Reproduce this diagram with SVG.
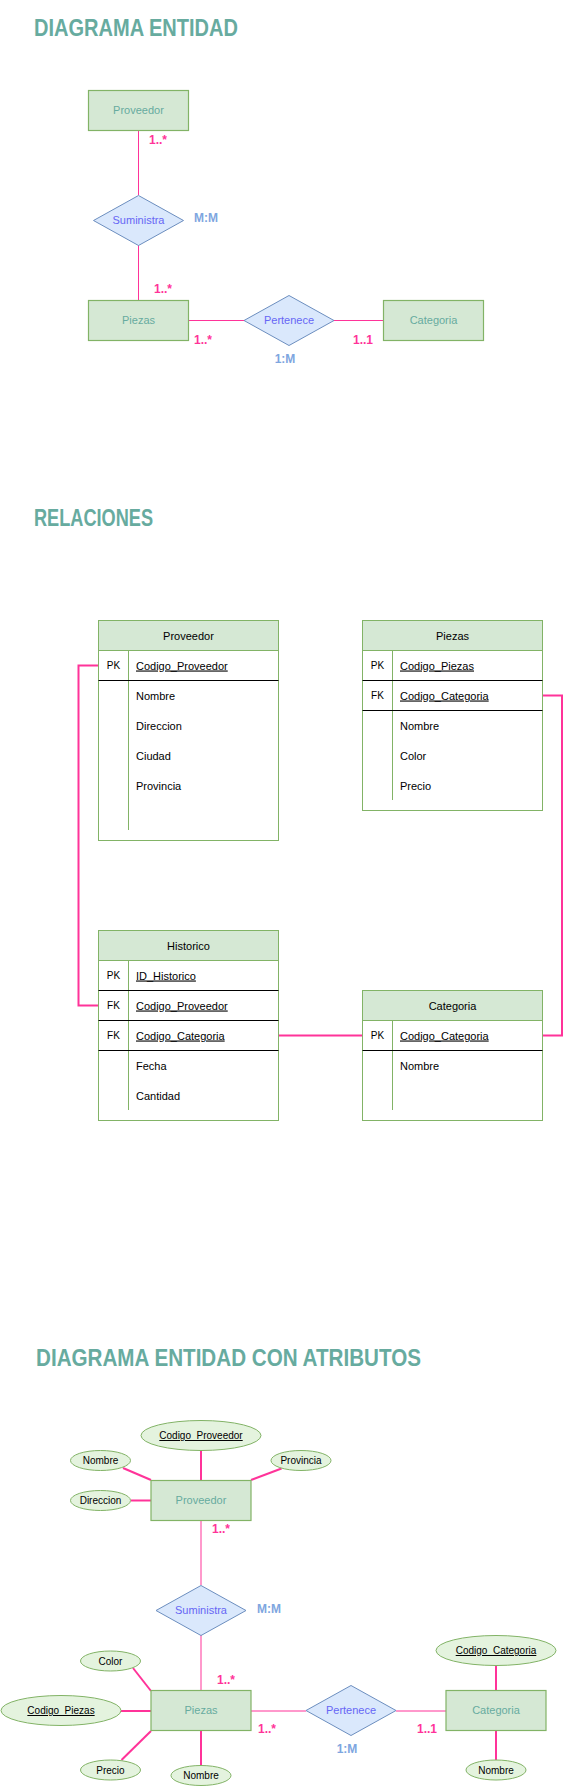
<svg xmlns="http://www.w3.org/2000/svg" width="566" height="1786" viewBox="0 0 566 1786">
<style>
text{font-family:"Liberation Sans",Arial,sans-serif}
.title{font-size:23px;font-weight:bold;fill:#67AB9F}
.ent{fill:#d5e8d4;stroke:#82b366;stroke-width:1.2}
.entt{font-size:11px;fill:#67AB9F;text-anchor:middle}
.rel{fill:#dae8fc;stroke:#6c8ebf;stroke-width:1}
.relt{font-size:11px;fill:#6666F5;text-anchor:middle}
.card{font-size:12px;font-weight:bold;fill:#FF3399;text-anchor:middle}
.ratio{font-size:12px;font-weight:bold;fill:#7EA6E0;text-anchor:middle}
.ln{stroke:#FF3399;stroke-width:1;fill:none}
.ln2{stroke:#FF3399;stroke-width:2;fill:none}
.lnl{stroke:#FF99CC;stroke-width:2;fill:none}
.tbl{fill:#ffffff;stroke:#82b366;stroke-width:1}
.hdr{fill:#d5e8d4;stroke:#82b366;stroke-width:1}
.div{stroke:#82b366;stroke-width:1}
.sep{stroke:#000000;stroke-width:1}
.th{font-size:11px;fill:#000;text-anchor:middle}
.k{font-size:10px;fill:#000;text-anchor:middle}
.f{font-size:11px;fill:#000}
.u{text-decoration:underline}
.att{fill:#e4f3de;stroke:#82b366;stroke-width:1}
.attt{font-size:10px;fill:#000;text-anchor:middle}
</style>

<!-- Titles -->
<text class="title" x="34" y="36" textLength="204" lengthAdjust="spacingAndGlyphs">DIAGRAMA ENTIDAD</text>
<text class="title" x="34" y="526" textLength="119" lengthAdjust="spacingAndGlyphs">RELACIONES</text>
<text class="title" x="36" y="1366" textLength="385" lengthAdjust="spacingAndGlyphs">DIAGRAMA ENTIDAD CON ATRIBUTOS</text>

<!-- Section 1 connectors -->
<g id="connectors1">
<line class="ln" x1="138.5" y1="130" x2="138.5" y2="195"/>
<line class="ln" x1="138.5" y1="245" x2="138.5" y2="300"/>
<line class="ln" x1="188" y1="320.5" x2="244" y2="320.5"/>
<line class="ln" x1="334" y1="320.5" x2="383" y2="320.5"/>
<text class="card" x="158" y="144">1..*</text>
<text class="ratio" x="206" y="222">M:M</text>
<text class="card" x="163" y="293">1..*</text>
<text class="card" x="203" y="344">1..*</text>
<text class="card" x="363" y="344">1..1</text>
<text class="ratio" x="285" y="363">1:M</text>
</g>
<g id="e1-proveedor"><rect class="ent" x="88.5" y="90.5" width="100" height="40"/><text class="entt" x="138.5" y="114">Proveedor</text></g>
<g id="r1-suministra"><polygon class="rel" points="138.5,195.5 183.5,220.5 138.5,245.5 93.5,220.5"/><text class="relt" x="138.5" y="224">Suministra</text></g>
<g id="e1-piezas"><rect class="ent" x="88.5" y="300.5" width="100" height="40"/><text class="entt" x="138.5" y="324">Piezas</text></g>
<g id="r1-pertenece"><polygon class="rel" points="289,295.5 334,320.5 289,345.5 244,320.5"/><text class="relt" x="289" y="324">Pertenece</text></g>
<g id="e1-categoria"><rect class="ent" x="383.5" y="300.5" width="100" height="40"/><text class="entt" x="433.5" y="324">Categoria</text></g>

<!-- Section 2 connectors -->
<g id="connectors2">
<polyline class="ln2" points="99,665.5 78.5,665.5 78.5,1005.5 99,1005.5"/>
<polyline class="ln2" points="543,695.5 562,695.5 562,1035.5 543,1035.5"/>
<line class="ln2" x1="279" y1="1035.5" x2="363" y2="1035.5"/>
</g>

<g id="t-proveedor">
<rect class="tbl" x="98.5" y="620.5" width="180" height="220"/>
<rect class="hdr" x="98.5" y="620.5" width="180" height="30"/>
<line class="div" x1="128.5" y1="650.5" x2="128.5" y2="830"/>
<line class="sep" x1="98.5" y1="680.5" x2="278.5" y2="680.5"/>
<text class="th" x="188.5" y="639.5">Proveedor</text>
<text class="k" x="113.5" y="669">PK</text>
<text class="f u" x="136" y="669.5">Codigo_Proveedor</text>
<text class="f" x="136" y="699.5">Nombre</text>
<text class="f" x="136" y="729.5">Direccion</text>
<text class="f" x="136" y="759.5">Ciudad</text>
<text class="f" x="136" y="789.5">Provincia</text>
</g>

<g id="t-piezas">
<rect class="tbl" x="362.5" y="620.5" width="180" height="190"/>
<rect class="hdr" x="362.5" y="620.5" width="180" height="30"/>
<line class="div" x1="392.5" y1="650.5" x2="392.5" y2="800"/>
<line class="sep" x1="362.5" y1="680.5" x2="542.5" y2="680.5"/>
<line class="sep" x1="362.5" y1="710.5" x2="542.5" y2="710.5"/>
<text class="th" x="452.5" y="639.5">Piezas</text>
<text class="k" x="377.5" y="669">PK</text>
<text class="f u" x="400" y="669.5">Codigo_Piezas</text>
<text class="k" x="377.5" y="699">FK</text>
<text class="f u" x="400" y="699.5">Codigo_Categoria</text>
<text class="f" x="400" y="729.5">Nombre</text>
<text class="f" x="400" y="759.5">Color</text>
<text class="f" x="400" y="789.5">Precio</text>
</g>

<g id="t-historico">
<rect class="tbl" x="98.5" y="930.5" width="180" height="190"/>
<rect class="hdr" x="98.5" y="930.5" width="180" height="30"/>
<line class="div" x1="128.5" y1="960.5" x2="128.5" y2="1110"/>
<line class="sep" x1="98.5" y1="990.5" x2="278.5" y2="990.5"/>
<line class="sep" x1="98.5" y1="1020.5" x2="278.5" y2="1020.5"/>
<line class="sep" x1="98.5" y1="1050.5" x2="278.5" y2="1050.5"/>
<text class="th" x="188.5" y="949.5">Historico</text>
<text class="k" x="113.5" y="979">PK</text>
<text class="f u" x="136" y="979.5">ID_Historico</text>
<text class="k" x="113.5" y="1009">FK</text>
<text class="f u" x="136" y="1009.5">Codigo_Proveedor</text>
<text class="k" x="113.5" y="1039">FK</text>
<text class="f u" x="136" y="1039.5">Codigo_Categoria</text>
<text class="f" x="136" y="1069.5">Fecha</text>
<text class="f" x="136" y="1099.5">Cantidad</text>
</g>

<g id="t-categoria">
<rect class="tbl" x="362.5" y="990.5" width="180" height="130"/>
<rect class="hdr" x="362.5" y="990.5" width="180" height="30"/>
<line class="div" x1="392.5" y1="1020.5" x2="392.5" y2="1110"/>
<line class="sep" x1="362.5" y1="1050.5" x2="542.5" y2="1050.5"/>
<text class="th" x="452.5" y="1009.5">Categoria</text>
<text class="k" x="377.5" y="1039">PK</text>
<text class="f u" x="400" y="1039.5">Codigo_Categoria</text>
<text class="f" x="400" y="1069.5">Nombre</text>
</g>

<!-- Section 3 connectors -->
<g id="connectors3">
<line class="ln2" x1="201" y1="1450" x2="201" y2="1480"/>
<line class="ln2" x1="123" y1="1468" x2="151" y2="1480"/>
<line class="ln2" x1="281.5" y1="1468.5" x2="251" y2="1480"/>
<line class="ln2" x1="131" y1="1500.5" x2="151" y2="1500.5"/>
<line class="lnl" x1="201" y1="1520" x2="201" y2="1585"/>
<line class="lnl" x1="201" y1="1635" x2="201" y2="1691"/>
<line class="ln2" x1="133" y1="1668" x2="151" y2="1691"/>
<line class="ln2" x1="121" y1="1711" x2="151" y2="1711"/>
<line class="ln2" x1="121.5" y1="1760" x2="151" y2="1731"/>
<line class="ln2" x1="201" y1="1731" x2="201" y2="1766"/>
<line class="ln" x1="251" y1="1711" x2="306" y2="1711"/>
<line class="ln" x1="396" y1="1711" x2="446" y2="1711"/>
<line class="ln2" x1="496" y1="1666" x2="496" y2="1691"/>
<line class="ln2" x1="496" y1="1731" x2="496" y2="1760"/>
<text class="card" x="221" y="1533">1..*</text>
<text class="ratio" x="269" y="1613">M:M</text>
<text class="card" x="226" y="1684">1..*</text>
<text class="card" x="267" y="1733">1..*</text>
<text class="card" x="427" y="1733">1..1</text>
<text class="ratio" x="347" y="1753">1:M</text>
</g>

<g id="a-codprov"><ellipse class="att" cx="201" cy="1435.5" rx="60" ry="15"/><text class="attt u" x="201" y="1439">Codigo_Proveedor</text></g>
<g id="a-nombre-prov"><ellipse class="att" cx="100.5" cy="1460.5" rx="30" ry="10"/><text class="attt" x="100.5" y="1464">Nombre</text></g>
<g id="a-provincia"><ellipse class="att" cx="301" cy="1460.5" rx="30" ry="10"/><text class="attt" x="301" y="1464">Provincia</text></g>
<g id="a-direccion"><ellipse class="att" cx="100.5" cy="1500.5" rx="30" ry="10"/><text class="attt" x="100.5" y="1504">Direccion</text></g>
<g id="e3-proveedor"><rect class="ent" x="151" y="1480.5" width="100" height="40"/><text class="entt" x="201" y="1504">Proveedor</text></g>
<g id="r3-suministra"><polygon class="rel" points="201,1585.5 246,1610.5 201,1635.5 156,1610.5"/><text class="relt" x="201" y="1614">Suministra</text></g>
<g id="a-color"><ellipse class="att" cx="110.5" cy="1661" rx="30" ry="10"/><text class="attt" x="110.5" y="1664.5">Color</text></g>
<g id="a-codpiezas"><ellipse class="att" cx="61" cy="1710.5" rx="60" ry="15"/><text class="attt u" x="61" y="1714">Codigo_Piezas</text></g>
<g id="a-precio"><ellipse class="att" cx="110.5" cy="1770" rx="30" ry="10"/><text class="attt" x="110.5" y="1773.5">Precio</text></g>
<g id="a-nombre-piezas"><ellipse class="att" cx="201" cy="1775.5" rx="30" ry="10"/><text class="attt" x="201" y="1779">Nombre</text></g>
<g id="e3-piezas"><rect class="ent" x="151" y="1690.5" width="100" height="40"/><text class="entt" x="201" y="1714">Piezas</text></g>
<g id="r3-pertenece"><polygon class="rel" points="351,1685.5 396,1710.5 351,1735.5 306,1710.5"/><text class="relt" x="351" y="1714">Pertenece</text></g>
<g id="a-codcat"><ellipse class="att" cx="496" cy="1650.5" rx="60" ry="15"/><text class="attt u" x="496" y="1654">Codigo_Categoria</text></g>
<g id="e3-categoria"><rect class="ent" x="446" y="1690.5" width="100" height="40"/><text class="entt" x="496" y="1714">Categoria</text></g>
<g id="a-nombre-cat"><ellipse class="att" cx="496" cy="1770" rx="30" ry="10"/><text class="attt" x="496" y="1773.5">Nombre</text></g>
</svg>
